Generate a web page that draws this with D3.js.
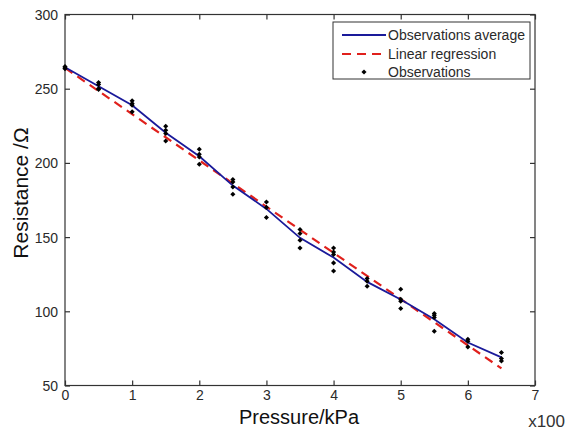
<!DOCTYPE html>
<html><head><meta charset="utf-8">
<script src="https://cdn.jsdelivr.net/npm/d3@7"></script>
<style>body{margin:0;background:#fff;}svg{display:block;}text{font-family:"Liberation Sans",Arial,sans-serif;}</style>
</head><body><svg id="c" width="566" height="432"></svg>
<script>
// Pressure positions (x100 kPa)
const pressures = [0,0.5,1,1.5,2,2.5,3,3.5,4,4.5,5,5.5,6,6.5];
// Observations at each pressure (Ω)
const observations = [
  [265,264,263.5],
  [254.2,252.8,250.1,249.5],
  [241.8,240,238.9,234.4],
  [224.7,222,219.8,214.8],
  [209.2,205.8,204,199.1],
  [188.8,187.2,183.8,178.9],
  [173.7,170,163.2],
  [155.1,152.4,147.9,142.7],
  [142.7,140,138.3,132.6,127.2],
  [122.1,120.3,116.9],
  [114.9,108.1,106.8,101.9],
  [98.5,97.3,95.8,86.6],
  [81.2,79.8,76.0],
  [72.2,68.2,66.5]
];
// Observations average
const averages = [264.5,251.7,238.8,220.3,204.5,184.7,169,149.5,136.2,119.8,107.9,94.6,79,69];
// Linear regression endpoints
const regX = [0,6.5];
const regY = [264,61.5];
const xTicks = [0,1,2,3,4,5,6,7];
const yTicks = [50,100,150,200,250,300];
const legendLabels = ["Observations average","Linear regression","Observations"];

const svg = d3.select("#c");
const L=65,R=535,T=14.5,B=385.5;
const x = d3.scaleLinear().domain([0,7]).range([L,R]);
const y = d3.scaleLinear().domain([50,300]).range([B,T]);
const ink="#2a2a2a";

// frame
svg.append("rect").attr("x",L).attr("y",T).attr("width",R-L).attr("height",B-T)
  .attr("fill","none").attr("stroke","#333").attr("stroke-width",1.2);

// axes with inward ticks
const ax = svg.append("g").attr("transform",`translate(0,${B})`)
  .call(d3.axisBottom(x).tickValues(xTicks).tickSize(-5).tickPadding(4).tickFormat(d3.format("d")));
const axT = svg.append("g").attr("transform",`translate(0,${T})`)
  .call(d3.axisTop(x).tickValues(xTicks).tickSize(-5).tickFormat(""));
const ay = svg.append("g").attr("transform",`translate(${L},0)`)
  .call(d3.axisLeft(y).tickValues(yTicks).tickSize(-5).tickPadding(7));
const ayR = svg.append("g").attr("transform",`translate(${R},0)`)
  .call(d3.axisRight(y).tickValues(yTicks).tickSize(-5).tickFormat(""));
[ax,axT,ay,ayR].forEach(g=>{
  g.select(".domain").remove();
  g.selectAll("line").attr("stroke","#333").attr("stroke-width",1.2);
  g.selectAll("text").attr("fill",ink).attr("font-size",14).attr("font-family","Liberation Sans, Arial, sans-serif");
});
ay.selectAll("text").attr("dy","0.35em");
ax.selectAll("text").attr("dy","0.75em");

// labels
svg.append("text").attr("x",299).attr("y",424).attr("text-anchor","middle")
  .attr("font-size",20).attr("fill","#111").text("Pressure/kPa");
svg.append("text").attr("transform","translate(28,193) rotate(-90)").attr("text-anchor","middle")
  .attr("font-size",21).attr("fill","#111").text("Resistance /\u03A9");
svg.append("text").attr("x",565).attr("y",427).attr("text-anchor","end")
  .attr("font-size",17).attr("fill","#333").text("x100");

// regression
svg.append("path").datum(regX.map((v,i)=>[v,regY[i]]))
  .attr("d",d3.line().x(d=>x(d[0])).y(d=>y(d[1])))
  .attr("fill","none").attr("stroke","#e0201c").attr("stroke-width",2.2).attr("stroke-dasharray","9,6");
// average
svg.append("path").datum(pressures.map((p,i)=>[p,averages[i]]))
  .attr("d",d3.line().x(d=>x(d[0])).y(d=>y(d[1])))
  .attr("fill","none").attr("stroke","#1a1a9a").attr("stroke-width",1.8);
// observations
const pts = [];
pressures.forEach((p,i)=>observations[i].forEach(v=>pts.push([p,v])));
const marker = d3.symbol().type(d3.symbolSquare).size(13);
svg.append("g").selectAll("path").data(pts).join("path")
  .attr("transform",d=>`translate(${x(d[0])},${y(d[1])}) rotate(45)`)
  .attr("d",marker)
  .attr("fill","#000");

// legend
const lg = svg.append("g");
lg.append("rect").attr("x",333).attr("y",22).attr("width",197).attr("height",57)
  .attr("fill","#fff").attr("stroke","#333").attr("stroke-width",1);
const rows=[35,54,72];
lg.append("line").attr("x1",342).attr("x2",386).attr("y1",rows[0]).attr("y2",rows[0])
  .attr("stroke","#1a1a9a").attr("stroke-width",1.8);
lg.append("line").attr("x1",342).attr("x2",386).attr("y1",rows[1]).attr("y2",rows[1])
  .attr("stroke","#e0201c").attr("stroke-width",2.2).attr("stroke-dasharray","9,6");
lg.append("path").attr("transform",`translate(364,${rows[2]}) rotate(45)`)
  .attr("d",marker).attr("fill","#000");
lg.selectAll("text.l").data(legendLabels).join("text").attr("class","l")
  .attr("x",388).attr("y",(d,i)=>rows[i]).attr("dy","0.35em")
  .attr("font-size",14).attr("fill",ink).text(d=>d);
</script></body></html>
